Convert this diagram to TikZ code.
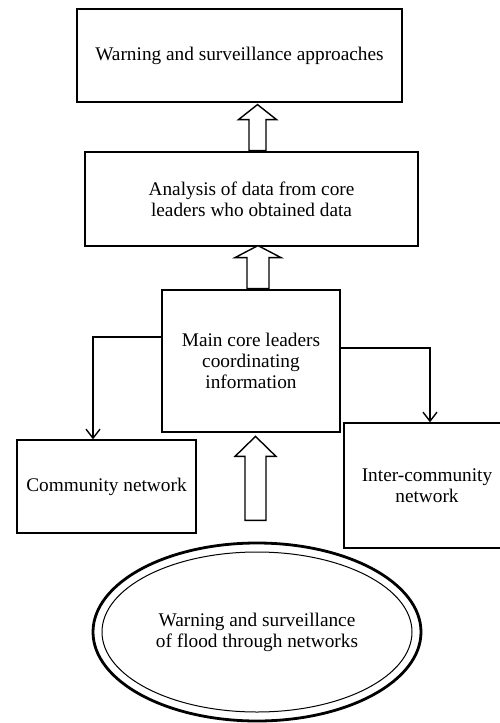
\documentclass[tikz,border=0pt]{standalone}
\usepackage{fontspec}
\setmainfont{Liberation Serif}
\usetikzlibrary{arrows.meta,shapes.geometric,calc}
\begin{document}
\begin{tikzpicture}[x=1pt,y=-1pt,
  txt/.style={align=center,inner sep=0pt,font=\fontsize{19.3}{21}\selectfont},
  box/.style={txt,draw,line width=2.8pt},
  thinbox/.style={txt,draw,line width=1.4pt},
  link/.style={line width=1.4pt,-{Straight Barb[length=9pt,width=14pt,line width=1.4pt]}},
  hollow/.style={draw,line width=1.4pt,fill=white,line join=miter}]
\useasboundingbox (0,0) rectangle (499,723);
\node[box,minimum width=325pt,minimum height=93pt] (top) at (239.5,55.5) {Warning and surveillance approaches};
\node[box,minimum width=333pt,minimum height=94pt] (mid) at (251.5,199) {Analysis of data from core\\leaders who obtained data};
\node[box,minimum width=178pt,minimum height=142pt] (core) at (251,361) {Main core leaders\\coordinating\\information};
\node[thinbox,minimum width=179pt,minimum height=93pt] (comm) at (106.5,486.5) {Community network};
\node[thinbox,minimum width=166pt,minimum height=125pt,text width=150pt] (inter) at (427,485.5) {Inter-community\\network};
\node[txt,draw,ellipse,line width=2.8pt,minimum width=328pt,minimum height=178pt] (ell) at (257,632) {Warning and surveillance\\of flood through networks};
\draw[line width=1pt] (ell.center) ellipse [x radius=155, y radius=80];
% hollow block arrows
\coordinate (a1) at ($(mid.north)+(6,0)$);
\draw[hollow] (a1) ++(-8.5,0) -- ++(0,-31) -- ++(-10.5,0) -- ++(19,-15) -- ++(19,15) -- ++(-10.5,0) -- ++(0,31) -- cycle;
\coordinate (a2) at ($(core.north)+(7,0)$);
\draw[hollow] (a2) ++(-11,0) -- ++(0,-31) -- ++(-12,0) -- ++(23,-12) -- ++(23,12) -- ++(-12,0) -- ++(0,31) -- cycle;
\coordinate (a3) at ($(core.south)+(4.5,87)$);
\draw[hollow] (a3) ++(-10.5,0) -- ++(0,-64) -- ++(-10,0) -- ++(20.5,-20) -- ++(20.5,20) -- ++(-10,0) -- ++(0,64) -- cycle;
% connectors
\draw[link] (core.west |- 0,337) -| ($(comm.north)+(-13.5,0)$);
\draw[link] (core.east |- 0,348) -| ($(inter.north)+(3,0)$);
\end{tikzpicture}
\end{document}
